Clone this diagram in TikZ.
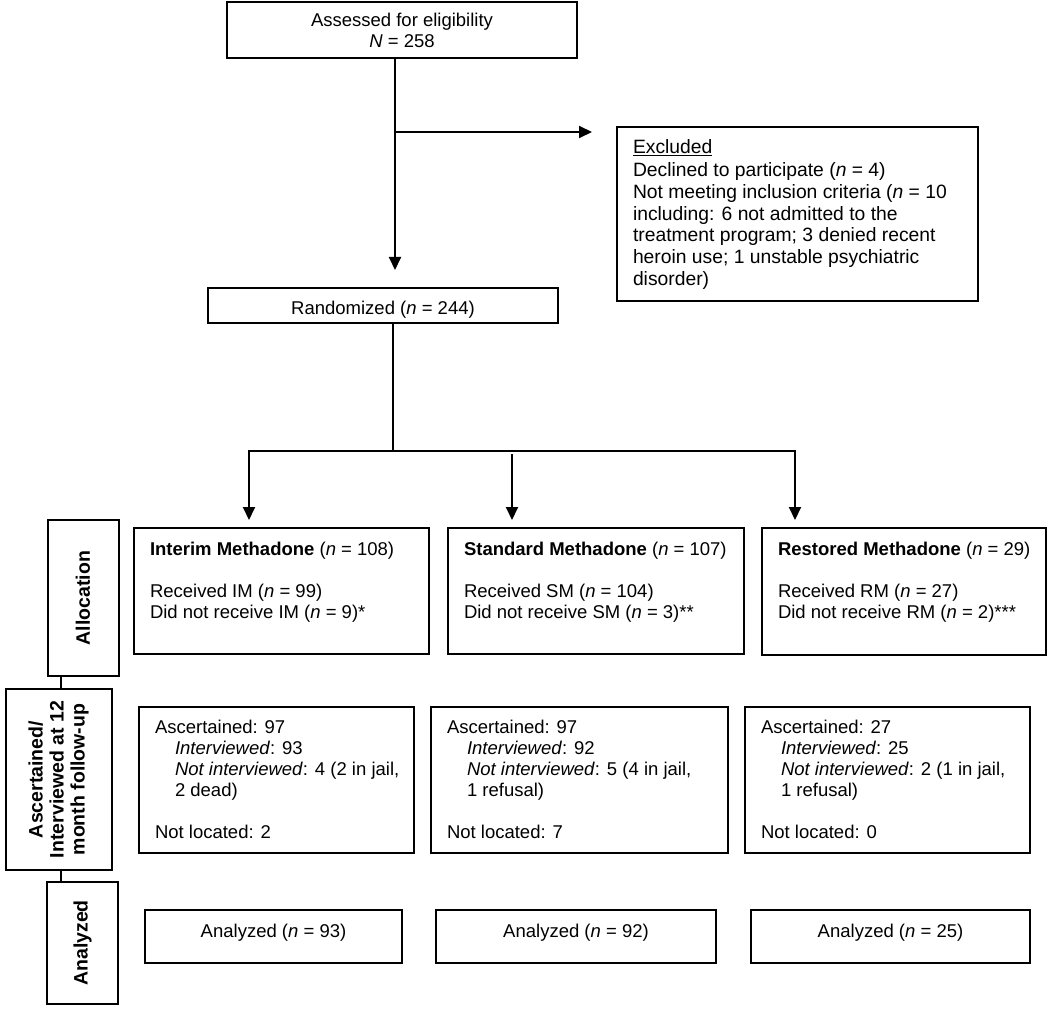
\documentclass[tikz,border=0pt]{standalone}
\usepackage{fontspec}
\setmainfont{Liberation Sans}
\usetikzlibrary{arrows.meta,calc}
\newcommand\myst{\rule{0pt}{14pt}}
\tikzset{
  box/.style={draw, line width=2pt, rectangle, inner sep=0pt, outer sep=0pt, anchor=north west},
  txt/.style={inner sep=0pt, outer sep=0pt, align=left, font=\fontsize{18.5}{21}\selectfont, anchor=north west},
  ctxt/.style={txt, align=center, anchor=north},
  side/.style={draw, line width=2pt, rotate=90, inner sep=0pt, outer sep=0pt, align=center, font=\bfseries\fontsize{19.5}{21}\selectfont},
  arr/.style={line width=2pt, -{Triangle[width=12pt,length=13pt]}},
  ln/.style={line width=2pt, line cap=rect},
}
\begin{document}
\begin{tikzpicture}[x=1pt,y=-1pt]
\useasboundingbox (0,0) rectangle (1050,1011);
% top
\node[box, minimum width=350pt, minimum height=56pt] (assess) at (227,2) {};
\node[ctxt] (assessT) at (402,13) {\myst Assessed for eligibility\\\textit{N} = 258};
\node[box, minimum width=361pt, minimum height=174pt] (excl) at (617,127) {};
\node[txt, font=\fontsize{19.3}{22}\selectfont] (exclT) at (633,140) {\myst\underline{Excluded}\\Declined to participate (\textit{n} = 4)\\Not meeting inclusion criteria (\textit{n} = 10\\including: 6 not admitted to the\\treatment program; 3 denied recent\\heroin use; 1 unstable psychiatric\\disorder)};
\node[box, minimum width=350pt, minimum height=35pt] (rand) at (208,288) {};
\node[ctxt] (randT) at (383,300) {\myst Randomized (\textit{n} = 244)};
% allocation row
\node[box, minimum width=295pt, minimum height=126pt] (interim) at (134,528) {};
\node[txt] (interimT) at (150,541) {\myst\textbf{Interim Methadone} (\textit{n} = 108)\\[21pt]Received IM (\textit{n} = 99)\\Did not receive IM (\textit{n} = 9)*};
\node[box, minimum width=296pt, minimum height=126pt] (standard) at (448,528) {};
\node[txt] (standardT) at (464,541) {\myst\textbf{Standard Methadone} (\textit{n} = 107)\\[21pt]Received SM (\textit{n} = 104)\\Did not receive SM (\textit{n} = 3)**};
\node[box, minimum width=284pt, minimum height=127pt] (restored) at (762,528) {};
\node[txt] (restoredT) at (778,541) {\myst\textbf{Restored Methadone} (\textit{n} = 29)\\[21pt]Received RM (\textit{n} = 27)\\Did not receive RM (\textit{n} = 2)***};
% ascertained row
\node[box, minimum width=275pt, minimum height=146pt] (ascA) at (139,707) {};
\node[txt] (ascAT) at (155,719) {\myst Ascertained: 97\\\hspace*{20pt}\textit{Interviewed}: 93\\\hspace*{20pt}\textit{Not interviewed}: 4 (2 in jail,\\\hspace*{20pt}2 dead)\\[21pt]Not located: 2};
\node[box, minimum width=297pt, minimum height=146pt] (ascB) at (431,707) {};
\node[txt] (ascBT) at (447,719) {\myst Ascertained: 97\\\hspace*{20pt}\textit{Interviewed}: 92\\\hspace*{20pt}\textit{Not interviewed}: 5 (4 in jail,\\\hspace*{20pt}1 refusal)\\[21pt]Not located: 7};
\node[box, minimum width=285pt, minimum height=146pt] (ascC) at (745,707) {};
\node[txt] (ascCT) at (761,719) {\myst Ascertained: 27\\\hspace*{20pt}\textit{Interviewed}: 25\\\hspace*{20pt}\textit{Not interviewed}: 2 (1 in jail,\\\hspace*{20pt}1 refusal)\\[21pt]Not located: 0};
% analyzed row
\node[box, minimum width=257pt, minimum height=53pt] (anA) at (145,910) {};
\node[ctxt] (anAT) at (273.5,923) {\myst Analyzed (\textit{n} = 93)};
\node[box, minimum width=280pt, minimum height=53pt] (anB) at (436,910) {};
\node[ctxt] (anBT) at (576,923) {\myst Analyzed (\textit{n} = 92)};
\node[box, minimum width=279pt, minimum height=53pt] (anC) at (751,910) {};
\node[ctxt] (anCT) at (890.5,923) {\myst Analyzed (\textit{n} = 25)};
% side labels
\node[side, minimum width=156pt, minimum height=71pt] (allocL) at (83,598) {Allocation};
\node[side, minimum width=181pt, minimum height=106pt] (ascL) at (58.5,779.5) {Ascertained/\\Interviewed at 12\\month follow-up};
\node[side, minimum width=122pt, minimum height=71pt] (anL) at (82.5,943) {Analyzed};
\coordinate (cx) at (61,0);
\draw[ln] (allocL.west -| cx) -- (ascL.east -| cx);
\draw[ln] (ascL.west -| cx) -- (anL.east -| cx);
% connectors
\coordinate (v1) at (395,0);
\draw[arr, shorten >=18pt] (assess.south -| v1) -- (rand.north -| v1);
\coordinate (brk) at (395,132);
\draw[arr, shorten >=25pt] (brk) -- (brk -| excl.west);
\coordinate (v2) at (393,0);
\coordinate (split) at (393,451);
\draw[ln] (rand.south -| v2) -- (split);
\coordinate (hl) at (249,451);
\coordinate (hr) at (795,451);
\coordinate (hm) at (512,454);
\draw[ln] (hl) -- (hr);
\draw[arr, shorten >=8pt] (hl) -- (hl |- interim.north);
\draw[arr, shorten >=8pt] (hm) -- (hm |- standard.north);
\draw[arr, shorten >=8pt] (hr) -- (hr |- restored.north);
\end{tikzpicture}
\end{document}
